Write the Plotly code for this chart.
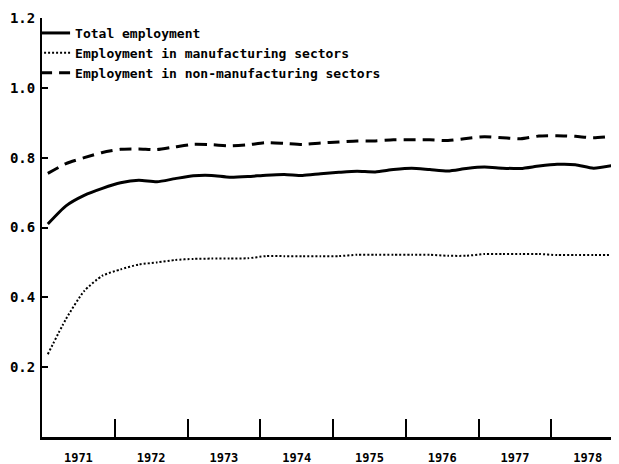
import plotly.graph_objects as go

# quarterly observation times (decimal years)
time = [1971.08 + 0.25 * i for i in range(32)]

total_employment = [
    0.610, 0.662, 0.692, 0.712, 0.728, 0.735, 0.731, 0.740,
    0.748, 0.749, 0.744, 0.746, 0.750, 0.752, 0.749, 0.754,
    0.758, 0.761, 0.759, 0.766, 0.770, 0.766, 0.762, 0.769,
    0.773, 0.770, 0.769, 0.776, 0.781, 0.780, 0.770, 0.777,
]
manufacturing = [
    0.237, 0.338, 0.418, 0.462, 0.480, 0.494, 0.500, 0.507,
    0.510, 0.511, 0.511, 0.512, 0.518, 0.518, 0.518, 0.518,
    0.518, 0.522, 0.522, 0.522, 0.522, 0.522, 0.519, 0.519,
    0.524, 0.524, 0.524, 0.524, 0.521, 0.521, 0.521, 0.521,
]
non_manufacturing = [
    0.755, 0.783, 0.800, 0.815, 0.824, 0.825, 0.823, 0.831,
    0.838, 0.837, 0.834, 0.837, 0.843, 0.841, 0.838, 0.842,
    0.845, 0.848, 0.848, 0.851, 0.851, 0.851, 0.849, 0.855,
    0.860, 0.857, 0.854, 0.862, 0.863, 0.861, 0.857, 0.861,
]

year_labels = ["1971", "1972", "1973", "1974", "1975", "1976", "1977", "1978"]
year_bounds = [1972, 1973, 1974, 1975, 1976, 1977, 1978]
y_ticks = [0.2, 0.4, 0.6, 0.8, 1.0, 1.2]

FONT = "DejaVu Sans Mono"

fig = go.Figure()
fig.add_trace(go.Scatter(
    x=time, y=total_employment, mode="lines", name="Total employment",
    line=dict(color="black", width=3, shape="spline", smoothing=0.6),
))
fig.add_trace(go.Scatter(
    x=time, y=manufacturing, mode="lines", name="Employment in manufacturing sectors",
    line=dict(color="black", width=2, dash="2px,2px", shape="spline", smoothing=0.6),
))
fig.add_trace(go.Scatter(
    x=time, y=non_manufacturing, mode="lines", name="Employment in non-manufacturing sectors",
    line=dict(color="black", width=3, dash="12px,7px", shape="spline", smoothing=0.6),
))

# the page body has an 8px margin, so the figure is sized to fill the rest of the window
fig.update_layout(
    template="none",
    width=611, height=456,
    margin=dict(l=34, r=0, t=10, b=27, pad=0),
    paper_bgcolor="white", plot_bgcolor="white",
    font=dict(family=FONT, color="black", size=12, weight="bold"),
    showlegend=True,
    legend=dict(
        x=-0.012, y=1.0, xanchor="left", yanchor="top",
        bgcolor="rgba(0,0,0,0)", borderwidth=0,
        font=dict(family=FONT, size=13, color="black", weight="bold"),
        itemwidth=30, tracegroupgap=0,
    ),
    xaxis=dict(
        automargin=False,
        range=[1971, 1978.93],
        showgrid=False, zeroline=False,
        showline=True, linecolor="black", linewidth=3,
        tickmode="array",
        tickvals=[int(y) + 0.5 for y in year_labels],
        ticktext=year_labels,
        ticks="",
        ticklabelstandoff=8,
        tickfont=dict(family=FONT, size=12, weight="bold"),
        minor=dict(
            tickmode="array", tickvals=year_bounds,
            ticks="inside", ticklen=18, tickwidth=2, tickcolor="black",
            showgrid=False,
        ),
    ),
    yaxis=dict(
        automargin=False,
        range=[0, 1.2],
        showgrid=False, zeroline=False,
        showline=True, linecolor="black", linewidth=2,
        tickmode="array", tickvals=y_ticks,
        tickformat=".1f",
        ticks="inside", ticklen=6, tickwidth=2, tickcolor="black",
        ticklabelstandoff=2,
        tickfont=dict(family=FONT, size=14, weight="bold"),
    ),
)

fig.write_html("out.html")
